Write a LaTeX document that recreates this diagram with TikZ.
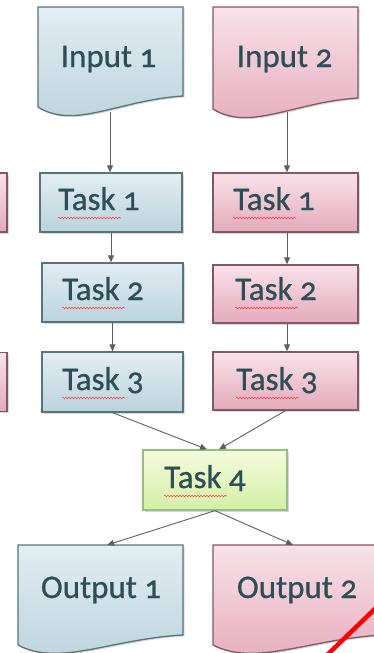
\documentclass[tikz,border=0pt]{standalone}
\usepackage{fontspec}
\setmainfont[Numbers=OldStyle]{Carlito}
\newfontfamily\txtfont{Carlito}[Numbers=OldStyle,FakeBold=0.7]
\usetikzlibrary{arrows.meta,shadows,decorations.pathmorphing}
\definecolor{bluetop}{RGB}{226,238,242}
\definecolor{bluebot}{RGB}{186,211,220}
\definecolor{bluedraw}{RGB}{88,116,122}
\definecolor{pinktop}{RGB}{249,226,233}
\definecolor{pinkbot}{RGB}{228,170,188}
\definecolor{pinkdraw}{RGB}{130,88,100}
\definecolor{greentop}{RGB}{244,251,222}
\definecolor{greenbot}{RGB}{210,239,164}
\definecolor{greendraw}{RGB}{150,190,130}
\definecolor{txtcol}{RGB}{45,78,84}
\definecolor{arrcol}{RGB}{95,95,95}
\begin{document}
\begin{tikzpicture}[x=1pt,y=-1pt,
  shad/.style={drop shadow={shadow xshift=1.5pt,shadow yshift=-1.5pt,opacity=0.25,fill=black!60}},
  boxstyle/.style={draw,line width=1.3pt,shad,inner sep=0pt},
  bluebox/.style={boxstyle,draw=bluedraw,top color=bluetop,bottom color=bluebot},
  pinkbox/.style={boxstyle,draw=pinkdraw,top color=pinktop,bottom color=pinkbot},
  greenbox/.style={boxstyle,draw=greendraw,top color=greentop,bottom color=greenbot},
  txt/.style={anchor=base,text=txtcol,font=\txtfont\fontsize{33}{38}\selectfont,inner sep=0pt},
  arr/.style={draw=arrcol,line width=0.9pt,-{Triangle[length=7pt,width=6pt]}},
  squig/.style={draw=red!75,line width=0.6pt,decorate,decoration={snake,amplitude=0.8pt,segment length=3pt}}
]
\useasboundingbox (0,0) rectangle (374,653);
\clip (0,0) rectangle (374,653);
\fill[white] (0,0) rectangle (374,653);

% partial boxes at left edge
\node[pinkbox,minimum width=30pt,minimum height=59pt] (pl1) at (-8,202.5) {};
\node[pinkbox,minimum width=30pt,minimum height=59pt] (pl3) at (-8,382) {};

% input documents
\path[bluebox] (38,7) -- (183,7) -- (183,96) .. controls (119.2,100) and (74.25,130) .. (38,107) -- cycle;
\path[pinkbox] (213,7) -- (358,7) -- (358,98) .. controls (294.2,102) and (249.25,132) .. (213,109) -- cycle;
\coordinate (in1b) at (110,112);
\coordinate (in2b) at (287,112);
\node[txt] (in1) at (108.5,67) {Input 1};
\node[txt] (in2) at (284.5,67) {Input 2};

% task boxes
\node[bluebox,minimum width=142pt,minimum height=59pt] (t1a) at (111,202.5) {};
\node[pinkbox,minimum width=145pt,minimum height=59pt] (t1b) at (285.5,202.5) {};
\node[bluebox,minimum width=141pt,minimum height=59pt] (t2a) at (112.5,292.5) {};
\node[pinkbox,minimum width=145pt,minimum height=58pt] (t2b) at (285.5,294) {};
\node[bluebox,minimum width=141pt,minimum height=60pt] (t3a) at (112.5,382) {};
\node[pinkbox,minimum width=145pt,minimum height=58pt] (t3b) at (285.5,381) {};
\node[greenbox,minimum width=144pt,minimum height=60pt] (t4) at (215,480) {};

\node[txt] (x1a) at (99,210) {Task 1};
\node[txt] (x1b) at (274,210) {Task 1};
\node[txt] (x2a) at (103,300) {Task 2};
\node[txt] (x2b) at (276,300) {Task 2};
\node[txt] (x3a) at (103,390) {Task 3};
\node[txt] (x3b) at (277,390) {Task 3};
\node[txt] (x4) at (205,488) {Task 4};

\foreach \n in {x1a,x1b,x2a,x2b,x3a,x3b,x4}
  \draw[squig] ([yshift=-8pt]\n.base west) -- ++(63,0);

% output documents
\path[bluebox] (18,545) -- (183,545) -- (183,635) .. controls (110.4,639) and (59.25,667) .. (18,645) -- cycle;
\path[pinkbox] (213,545) -- (383,545) -- (383,635) .. controls (308.2,639) and (255.5,667) .. (213,645) -- cycle;
\coordinate (o1t) at (107,545);
\coordinate (o2t) at (293,545);
\node[txt] (out1) at (101,598) {Output 1};
\node[txt] (out2) at (297,598) {Output 2};

% connectors
\draw[arr] (in1b) -- (t1a.north -| in1b);
\draw[arr] (in2b) -- (t1b.north -| in2b);
\draw[arr] (t1a.south) -- (t2a.north -| t1a.south);
\draw[arr] (t1b.south -| in2b) -- (t2b.north -| in2b);
\draw[arr] (t2a.south) -- (t3a.north);
\draw[arr] (t2b.south -| in2b) -- (t3b.north -| in2b);
\draw[arr] (t3a.south) -- ([xshift=-8pt]t4.north);
\draw[arr] (t3b.south) -- ([xshift=4pt]t4.north);
\draw[arr] (t4.south) -- (o1t);
\draw[arr] (t4.south) -- (o2t);

% red stroke at lower right
\coordinate (r1) at (324,658);
\coordinate (r2) at (380,604);
\draw[red,line width=4.5pt] (r1) -- (r2);
\end{tikzpicture}
\end{document}
